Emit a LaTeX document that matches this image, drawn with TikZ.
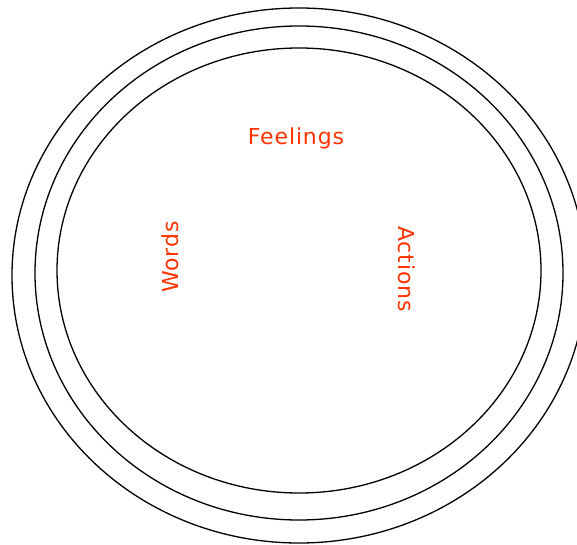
\documentclass[tikz,border=0pt]{standalone}
\usepackage{fontspec}
\newfontfamily\handfont[LetterSpace=4]{DejaVu Sans}
\definecolor{labelred}{HTML}{FF3300}
\begin{document}
\begin{tikzpicture}[x=1pt,y=1pt,
  ring/.style={draw=black,line width=1.3pt},
  lbl/.style={text=labelred,font=\handfont\fontsize{22}{26}\selectfont,inner sep=0pt}]
\useasboundingbox (0,0) rectangle (577,544);
\draw[ring] (299,268.5) ellipse [x radius=287,y radius=267.5];
\draw[ring] (299,271) ellipse [x radius=264,y radius=247];
\draw[ring] (299,273.5) ellipse [x radius=242,y radius=222.5];
\node[lbl] (feelings) at (296,406) {Feelings};
\node[lbl,rotate=90] (words) at (170,287) {Words};
\node[lbl,rotate=-90] (actions) at (407,275) {Actions};
\end{tikzpicture}
\end{document}
